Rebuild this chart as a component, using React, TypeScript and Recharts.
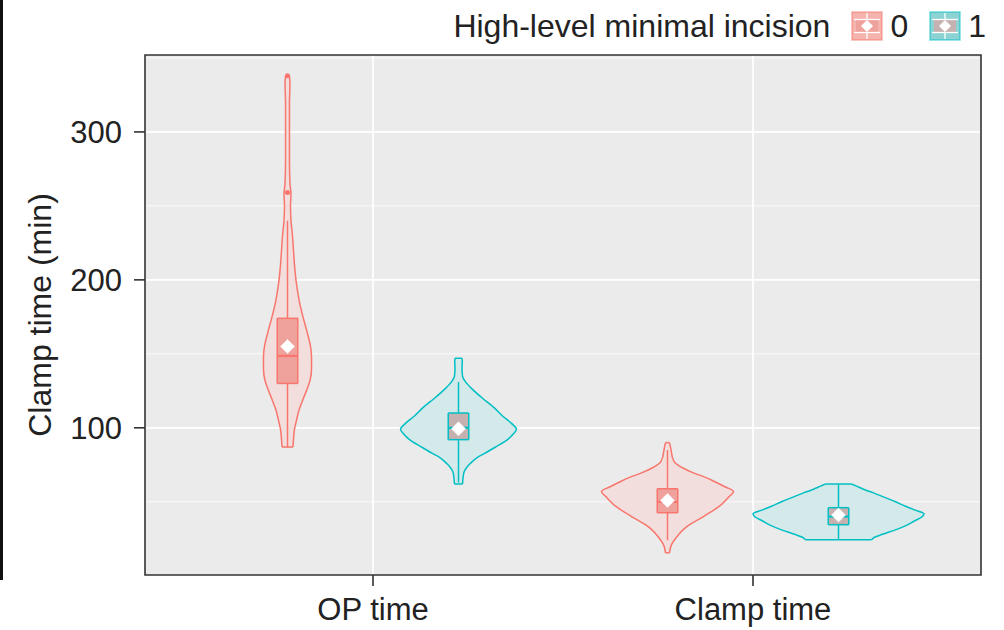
import React from 'react';
import {
  ComposedChart,
  Area,
  XAxis,
  YAxis,
  CartesianGrid,
  ReferenceLine,
  ReferenceDot,
  ReferenceArea,
  Legend,
} from 'recharts';

const categories = ['OP time', 'Clamp time'];
const groups = ['0', '1'];
const legendTitle = 'High-level minimal incision';
const yLabel = 'Clamp time (min)';
const yTicks = [100, 200, 300];
const yMinorTicks = [50, 150, 250, 350];

const groupColors = ['#F8766D', '#00BFC4'];
const violinFills = ['#F2DEDC', '#D4EAEA'];
const boxFills = ['#EFA29C', '#C6B1B1'];
const keyFills = ['#F5B3AE', '#8ED3D3'];
const FONT = '"Liberation Sans", Arial, Helvetica, sans-serif';

// violin outlines: value (min) and relative half-width (1 = widest violin)
const opTime0Values = [87, 92, 99, 105, 112, 120, 126, 132, 140, 148, 155, 165, 175, 185, 195, 200, 210, 220, 230, 240, 250, 258, 265, 280, 300, 320, 332, 338];
const opTime0Widths = [0.064, 0.07, 0.082, 0.105, 0.135, 0.187, 0.228, 0.263, 0.281, 0.281, 0.269, 0.228, 0.181, 0.14, 0.111, 0.099, 0.082, 0.07, 0.058, 0.041, 0.035, 0.041, 0.029, 0.023, 0.023, 0.023, 0.029, 0.023];

const opTime1Values = [62, 66, 70, 73, 76, 80, 83, 87, 92, 96, 99, 103, 108, 114, 120, 126, 131, 135, 140, 145, 147];
const opTime1Widths = [0.047, 0.053, 0.064, 0.094, 0.14, 0.222, 0.316, 0.433, 0.573, 0.643, 0.678, 0.62, 0.515, 0.409, 0.281, 0.164, 0.082, 0.047, 0.041, 0.044, 0.041];

const clamp0Values = [15.5, 21, 26, 33, 40, 46.5, 53, 57, 60, 63, 66.5, 69.5, 73, 76, 80, 83, 87, 90];
const clamp0Widths = [0.023, 0.047, 0.105, 0.222, 0.421, 0.596, 0.713, 0.772, 0.678, 0.573, 0.444, 0.304, 0.175, 0.094, 0.058, 0.047, 0.035, 0.023];

const clamp1Values = [24.3, 26, 28, 31, 34, 37, 40, 42, 44.5, 47, 50, 53.5, 56, 58, 60, 62];
const clamp1Widths = [0.386, 0.421, 0.515, 0.667, 0.795, 0.889, 0.982, 1, 0.889, 0.784, 0.667, 0.515, 0.409, 0.316, 0.234, 0.152];

// boxplot stats, order: OP/0, OP/1, Clamp/0, Clamp/1
const q1 = [130, 92, 42.6, 34.5];
const median = [148.6, 100, 50, 40];
const q3 = [174, 110, 58.8, 46];
const mean = [155, 99.3, 50.9, 41];
const whiskerLow = [87, 63, 24, 24.3];
const whiskerHigh = [240, 131, 85, 62];
const outliersOp0 = [259, 338];

const violins = [
  { cat: 0, grp: 0, values: opTime0Values, widths: opTime0Widths },
  { cat: 0, grp: 1, values: opTime1Values, widths: opTime1Widths },
  { cat: 1, grp: 0, values: clamp0Values, widths: clamp0Widths },
  { cat: 1, grp: 1, values: clamp1Values, widths: clamp1Widths },
];

const DODGE = 0.225;
const MAX_HALF = 0.225;
const BOX_HALF = 0.027;

const centerOf = (v: { cat: number; grp: number }) => v.cat + 1 + (v.grp === 0 ? -DODGE : DODGE);

const rows: Record<string, any>[] = [];
violins.forEach((v, k) => {
  const c = centerOf(v);
  v.values.forEach((y, i) => {
    const w = v.widths[i] * MAX_HALF;
    rows.push({ y, [`v${k}`]: [c - w, c + w] });
  });
});
violins.forEach((v, k) => {
  const c = centerOf(v);
  [q1[k], q3[k]].forEach((y) => rows.push({ y, [`b${k}`]: [c - BOX_HALF, c + BOX_HALF] }));
});

const pick = (key: string) => (r: Record<string, any>) => r[key] ?? [null, null];

const Diamond = (p: any) => {
  const { cx, cy } = p;
  const s = 7;
  return <path d={`M${cx},${cy - s}L${cx + s},${cy}L${cx},${cy + s}L${cx - s},${cy}Z`} fill="#ffffff" stroke="#ffffff" strokeWidth={0.5} />;
};

const LegendKey = ({ k }: { k: number }) => (
  <svg width={32} height={30} style={{ display: 'block' }}>
    <rect x={1} y={1} width={30} height={28} fill={keyFills[k]} stroke={groupColors[k]} strokeOpacity={0.55} strokeWidth={1.5} />
    <rect x={5} y={9} width={22} height={12} fill={boxFills[k]} />
    <line x1={3} x2={29} y1={8.5} y2={8.5} stroke="#fff" strokeWidth={1.3} />
    <line x1={3} x2={29} y1={21.5} y2={21.5} stroke="#fff" strokeWidth={1.3} />
    <line x1={16} x2={16} y1={2} y2={8.5} stroke="#fff" strokeWidth={1.3} />
    <line x1={16} x2={16} y1={21.5} y2={28} stroke="#fff" strokeWidth={1.3} />
    <path d="M16,9L22,15L16,21L10,15Z" fill="#fff" />
  </svg>
);

const renderLegend = () => (
  <div
    style={{
      height: 50,
      display: 'flex',
      alignItems: 'center',
      justifyContent: 'flex-end',
      paddingRight: 18,
      paddingTop: 2,
      boxSizing: 'border-box',
      fontFamily: FONT,
      fontSize: 32,
      color: '#222',
    }}
  >
    <span style={{ marginRight: 21 }}>{legendTitle}</span>
    {groups.map((g, k) => (
      <React.Fragment key={g}>
        <LegendKey k={k} />
        <span style={{ marginLeft: 7, marginRight: k === 0 ? 21 : 0 }}>{g}</span>
      </React.Fragment>
    ))}
  </div>
);

const renderYLabel = (props: any) => {
  const vb = props.viewBox || { x: 5, y: 55, height: 520 };
  const x = vb.x + 35;
  const y = vb.y + vb.height / 2;
  return (
    <text x={x} y={y} transform={`rotate(-90, ${x}, ${y})`} textAnchor="middle" dominantBaseline="central" fill="#222" fontSize={32} fontFamily={FONT}>
      {yLabel}
    </text>
  );
};

export default function App() {
  return (
    <div style={{ position: 'absolute', left: 0, top: 0, width: 1004, height: 630, background: '#fff' }}>
      <div style={{ position: 'absolute', left: 0, top: 0, width: 3, height: 580, background: '#111' }} />
      <ComposedChart
        width={1004}
        height={630}
        layout="vertical"
        data={rows}
        margin={{ top: 5, right: 23, bottom: 5, left: 5 }}
      >
        <Legend verticalAlign="top" content={renderLegend} wrapperStyle={{ top: 0, left: 0, width: 1004, height: 50 }} />
        <CartesianGrid
          fill="#EBEBEB"
          stroke="#ffffff"
          strokeWidth={0.8}
          horizontalValues={yMinorTicks}
          vertical={false}
        />
        <CartesianGrid
          stroke="#ffffff"
          strokeWidth={1.7}
          horizontalValues={yTicks}
          verticalValues={[1, 2]}
        />
        <XAxis
          type="number"
          domain={[0.4, 2.6]}
          allowDataOverflow
          ticks={[1, 2]}
          tickFormatter={(v: number) => categories[v - 1] ?? ''}
          height={50}
          axisLine={false}
          tickSize={11}
          tickMargin={12}
          tickLine={{ stroke: '#333', strokeWidth: 1.6 }}
          tick={{ fill: '#222', fontSize: 31, fontFamily: FONT }}
        />
        <YAxis
          type="number"
          dataKey="y"
          reversed
          domain={[0.5, 352]}
          allowDataOverflow
          ticks={yTicks}
          width={140}
          axisLine={false}
          tickSize={11}
          tickMargin={12}
          tickLine={{ stroke: '#333', strokeWidth: 1.6 }}
          tick={{ fill: '#222', fontSize: 31, fontFamily: FONT }}
          label={{ content: renderYLabel }}
        />
        {violins.map((v, k) => (
          <Area
            key={`v${k}`}
            type="monotone"
            dataKey={pick(`v${k}`)}
            stroke={groupColors[v.grp]}
            strokeWidth={1.5}
            fill={violinFills[v.grp]}
            fillOpacity={1}
            isAnimationActive={false}
            activeDot={false}
            dot={false}
          />
        ))}
        {violins.map((v, k) => {
          const c = centerOf(v);
          const n = v.values.length - 1;
          return [0, n].map((i) => (
            <ReferenceLine
              key={`cap${k}-${i}`}
              segment={[
                { x: c - v.widths[i] * MAX_HALF, y: v.values[i] },
                { x: c + v.widths[i] * MAX_HALF, y: v.values[i] },
              ]}
              stroke={groupColors[v.grp]}
              strokeWidth={1.5}
              ifOverflow="visible"
            />
          ));
        })}
        {violins.map((v, k) => {
          const c = centerOf(v);
          return [
            <ReferenceLine
              key={`wl${k}`}
              segment={[{ x: c, y: whiskerLow[k] }, { x: c, y: q1[k] }]}
              stroke={groupColors[v.grp]}
              strokeWidth={1.5}
              ifOverflow="visible"
            />,
            <ReferenceLine
              key={`wh${k}`}
              segment={[{ x: c, y: q3[k] }, { x: c, y: whiskerHigh[k] }]}
              stroke={groupColors[v.grp]}
              strokeWidth={1.5}
              ifOverflow="visible"
            />,
          ];
        })}
        {violins.map((v, k) => (
          <Area
            key={`b${k}`}
            type="linear"
            dataKey={pick(`b${k}`)}
            stroke={groupColors[v.grp]}
            strokeWidth={1.5}
            fill={boxFills[v.grp]}
            fillOpacity={1}
            isAnimationActive={false}
            activeDot={false}
            dot={false}
          />
        ))}
        {violins.map((v, k) => {
          const c = centerOf(v);
          return [q1[k], q3[k]].map((y, j) => (
            <ReferenceLine
              key={`bc${k}-${j}`}
              segment={[{ x: c - BOX_HALF, y }, { x: c + BOX_HALF, y }]}
              stroke={groupColors[v.grp]}
              strokeWidth={1.5}
              ifOverflow="visible"
            />
          ));
        })}
        {violins.map((v, k) => {
          const c = centerOf(v);
          return (
            <ReferenceLine
              key={`m${k}`}
              segment={[{ x: c - BOX_HALF, y: median[k] }, { x: c + BOX_HALF, y: median[k] }]}
              stroke={groupColors[v.grp]}
              strokeWidth={2.2}
              ifOverflow="visible"
            />
          );
        })}
        {outliersOp0.map((y) => (
          <ReferenceDot key={`o${y}`} x={centerOf(violins[0])} y={y} r={2.5} fill={groupColors[0]} stroke="none" ifOverflow="visible" />
        ))}
        {violins.map((v, k) => (
          <ReferenceDot key={`d${k}`} x={centerOf(v)} y={mean[k]} r={7} shape={Diamond} ifOverflow="visible" />
        ))}
        <ReferenceArea x1={0.4} x2={2.6} y1={0.5} y2={352} fill="none" stroke="#333" strokeWidth={1.6} ifOverflow="visible" />
      </ComposedChart>
    </div>
  );
}
